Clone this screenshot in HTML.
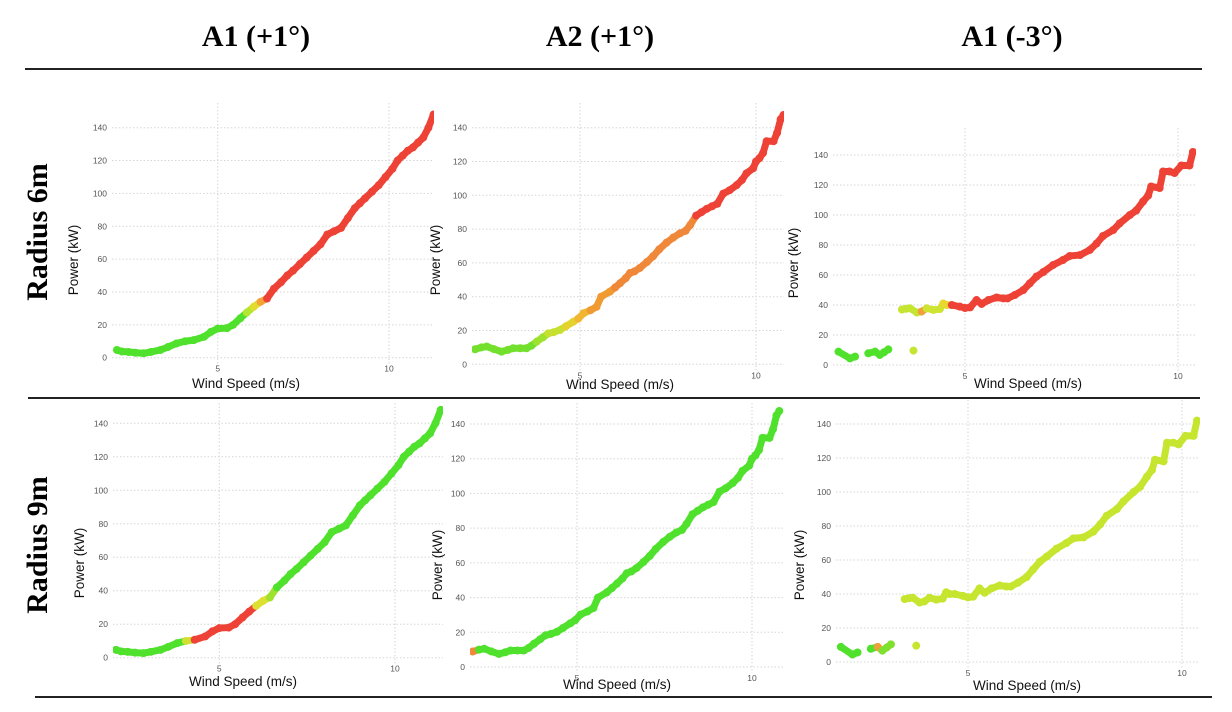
<!DOCTYPE html>
<html><head><meta charset="utf-8"><style>
html,body{margin:0;padding:0;background:#fff;}
body{width:1232px;height:712px;overflow:hidden;position:relative;font-family:"Liberation Sans",sans-serif;}
.hdr{position:absolute;font-family:"Liberation Serif",serif;font-weight:bold;font-size:30px;color:#000;white-space:nowrap;transform:translateX(-50%);}
.row{position:absolute;font-family:"Liberation Serif",serif;font-weight:bold;font-size:30px;color:#000;white-space:nowrap;transform:translate(-50%,-50%) rotate(-90deg);}
.rule{position:absolute;height:2px;background:#222;}
</style></head><body>
<div class="hdr" style="left:256px;top:20px;">A1 (+1°)</div>
<div class="hdr" style="left:600px;top:20px;">A2 (+1°)</div>
<div class="hdr" style="left:1012px;top:20px;">A1 (-3°)</div>
<div class="rule" style="left:25px;width:1177px;top:68px;"></div>
<div class="rule" style="left:28px;width:1172px;top:397px;"></div>
<div class="rule" style="left:35px;width:1177px;top:696px;"></div>
<div class="row" style="left:38px;top:232px;">Radius 6m</div>
<div class="row" style="left:38px;top:545px;">Radius 9m</div>
<svg id="chart" width="1232" height="712" style="position:absolute;left:0;top:0;"></svg>
<script>
// Dataset A1 (+1°): wind speed, power
const a1Wind = [2.06,2.2,2.4,2.6,2.84,3.05,3.33,3.55,3.8,4.05,4.3,4.6,4.8,5.0,5.27,5.45,5.66,5.85,6.05,6.25,6.44,6.64,6.85,7.03,7.2,7.4,7.6,7.8,8.0,8.2,8.4,8.6,8.8,9.0,9.15,9.3,9.5,9.7,9.9,10.1,10.25,10.4,10.55,10.7,10.85,11.0,11.15,11.3];
const a1Power = [4.7,3.8,3.5,3.0,2.7,3.5,4.7,6.5,8.7,10,10.7,12.7,15.7,17.7,18,20,24,27.5,31,34,36,42,46,50,53,57,61,65,69,75,77,79,85,91,94,97,101,105,110,115,120,123,126,128,131,134,140,148];
// Dataset A2 (+1°)
const a2Wind = [2.02,2.2,2.35,2.55,2.77,2.95,3.1,3.3,3.48,3.62,3.77,3.95,4.1,4.25,4.43,4.6,4.81,4.95,5.1,5.3,5.47,5.6,5.85,6.0,6.14,6.3,6.42,6.55,6.7,6.9,7.08,7.25,7.46,7.65,7.84,8.0,8.13,8.3,8.45,8.6,8.75,8.9,9.07,9.25,9.45,9.6,9.73,9.92,10.0,10.1,10.2,10.3,10.5,10.6,10.7,10.78];
const a2Power = [8.9,10,10.5,9,7.5,8.5,9.5,9.5,9.5,11,13.4,16,18.3,19,20.3,22.5,25.2,27,30.2,32,34,40,43,45.5,48,51,54,55,57,60.5,64,68,72,75,77.5,79,82.4,88,90,92,93.5,95,101,103,106,109,113,116,120,122,125,132,132,137,145,147.5];
// Dataset A1 (-3°)
const a3Wind = [2.03,2.3,2.42,2.73,2.89,3.0,3.1,3.2,3.79,3.52,3.62,3.71,3.87,3.98,4.1,4.26,4.41,4.49,4.57,4.69,4.88,5.0,5.12,5.27,5.39,5.55,5.74,5.9,6.0,6.17,6.37,6.52,6.68,6.84,7.07,7.3,7.46,7.7,7.93,8.09,8.24,8.48,8.63,8.87,9.02,9.18,9.3,9.37,9.57,9.65,9.8,9.92,10.08,10.27,10.35];
const a3Power = [8.9,4.4,5.6,7.8,8.9,6.7,8.5,10.4,9.6,37,37.5,37.8,35,35.6,37.8,36.7,37.3,41,40,40,38.9,38,38.4,43.3,40.7,43.3,45,44.4,44.4,46.7,50,54.4,59,62,66.7,70,72.7,73.3,76.7,81,86,90,94.4,100,103,109,113,119,118,129,129,128,133,133,142];
const yTicks = [0,20,40,60,80,100,120,140];
const xTicks = [5,10];
const xTitle = "Wind Speed (m/s)";
const yTitle = "Power (kW)";

const G='#4fe12c', R='#ee4236';
const panels = [
 {name:'a1-plus1-r6', wind:a1Wind, power:a1Power, x5:217.7,x10:389,y0:357.7,y140:127.7,left:112,right:434,top:103,yt:260,ytx:73,xtx:246,xty:388,
  stops:[[0,G],[5.7,'#b4e530'],[5.9,'#e2dc30'],[6.1,'#f4a436'],[6.35,R]]},
 {name:'a2-plus1-r6', wind:a2Wind, power:a2Power, x5:580,x10:756,y0:364.3,y140:127.7,left:472,right:784,top:103,yt:260,ytx:435,xtx:620,xty:389,
  stops:[[0,'#74e02e'],[3.7,'#9ee22e'],[4.1,'#c6e030'],[4.5,'#e4d22e'],[4.9,'#f0b632'],[5.3,'#f09a32'],[6.0,'#f0883a'],[8.2,R]]},
 {name:'a1-minus3-r6', wind:a3Wind, power:a3Power, x5:965,x10:1178,y0:365,y140:155,left:833,right:1196,top:128,yt:263,ytx:793,xtx:1028,xty:388,
  stops:[[0,G],[3.4,'#c4e632'],[3.95,'#f0a23a'],[4.05,'#cfe432'],[4.45,'#e8d830'],[4.62,R]]},
 {name:'a1-plus1-r9', wind:a1Wind, power:a1Power, x5:219.3,x10:395,y0:657.7,y140:423.3,left:113,right:443,top:403,yt:563,ytx:79,xtx:243,xty:686,
  stops:[[0,G],[3.95,'#d0e030'],[4.15,R],[5.9,'#f4a436'],[6.0,'#dde030'],[6.3,'#9ee22e'],[6.5,G]]},
 {name:'a2-plus1-r9', wind:a2Wind, power:a2Power, x5:577,x10:752,y0:667,y140:424,left:470,right:785,top:403,yt:565,ytx:437,xtx:617,xty:689,
  stops:[[0,'#f08a3a'],[2.1,G]]},
 {name:'a1-minus3-r9', wind:a3Wind, power:a3Power, x5:968,x10:1182,y0:662,y140:424,left:836,right:1200,top:400,yt:565,ytx:799,xtx:1027,xty:690,
  stops:[[0,G],[2.85,'#f0a03a'],[2.95,'#7fe02e'],[3.4,'#c6e52e']]}
];
const NS='http://www.w3.org/2000/svg';
const svg=document.getElementById('chart');
function mk(tag,attrs,parent){const e=document.createElementNS(NS,tag);for(const k in attrs)e.setAttribute(k,attrs[k]);(parent||svg).appendChild(e);return e;}
function colorFor(stops,w){let c=stops[0][1];for(const s of stops){if(w>=s[0])c=s[1];}return c;}
panels.forEach((p,pi)=>{
  const sx=w=>p.x5+(w-5)*(p.x10-p.x5)/5;
  const sy=v=>p.y0+(v)*(p.y140-p.y0)/140;
  const g=mk('g',{});
  
  
  const clipId='clip'+pi;
  const cp=mk('clipPath',{id:clipId},g);
  mk('rect',{x:p.left,y:p.top,width:p.right-p.left,height:p.y0+8-p.top},cp);
  yTicks.forEach(t=>{
    const ln=mk('line',{x1:p.left,x2:p.right,y1:sy(t),y2:sy(t),stroke:'#d6d6d6','stroke-width':1,'stroke-dasharray':'1.5 2'},g);
    
    
    const tx=mk('text',{x:p.left-5,y:sy(t)+3,'text-anchor':'end','font-size':8.5,fill:'#555'},g);
    tx.textContent=t;
    
    
  });
  xTicks.forEach(t=>{
    const ln=mk('line',{x1:sx(t),x2:sx(t),y1:p.top,y2:p.y0+6,stroke:'#d6d6d6','stroke-width':1,'stroke-dasharray':'1.5 2'},g);
    
    
    const tx=mk('text',{x:sx(t),y:p.y0+14,'text-anchor':'middle','font-size':8.5,fill:'#555'},g);
    tx.textContent=t;
    
    
  });
  const xt=mk('text',{x:p.xtx,y:p.xty,'text-anchor':'middle','font-size':13.5,fill:'#111'},g);
  xt.textContent=xTitle;
  
  
  const yt=mk('text',{x:0,y:0,'text-anchor':'middle','font-size':13.5,fill:'#111',transform:'translate('+(p.ytx+5)+','+p.yt+') rotate(-90)'},g);
  yt.textContent=yTitle;
  
  
  const pts=mk('g',{'clip-path':'url(#'+clipId+')'},g);
  
  
  for(let i=0;i<p.wind.length-1;i++){
    const w1=p.wind[i],w2=p.wind[i+1];
    if(w2<w1||w2-w1>0.3||Math.abs(p.power[i+1]-p.power[i])>12)continue;
    const seg=mk('line',{x1:sx(w1),y1:sy(p.power[i]),x2:sx(w2),y2:sy(p.power[i+1]),stroke:colorFor(p.stops,w1),'stroke-width':7,'stroke-linecap':'round'},pts);
    
    
  }
  p.wind.forEach((w,i)=>{
    const c=mk('circle',{cx:sx(w),cy:sy(p.power[i]),r:4,fill:colorFor(p.stops,w)},pts);
    
    
  });
});
</script>
</body></html>
